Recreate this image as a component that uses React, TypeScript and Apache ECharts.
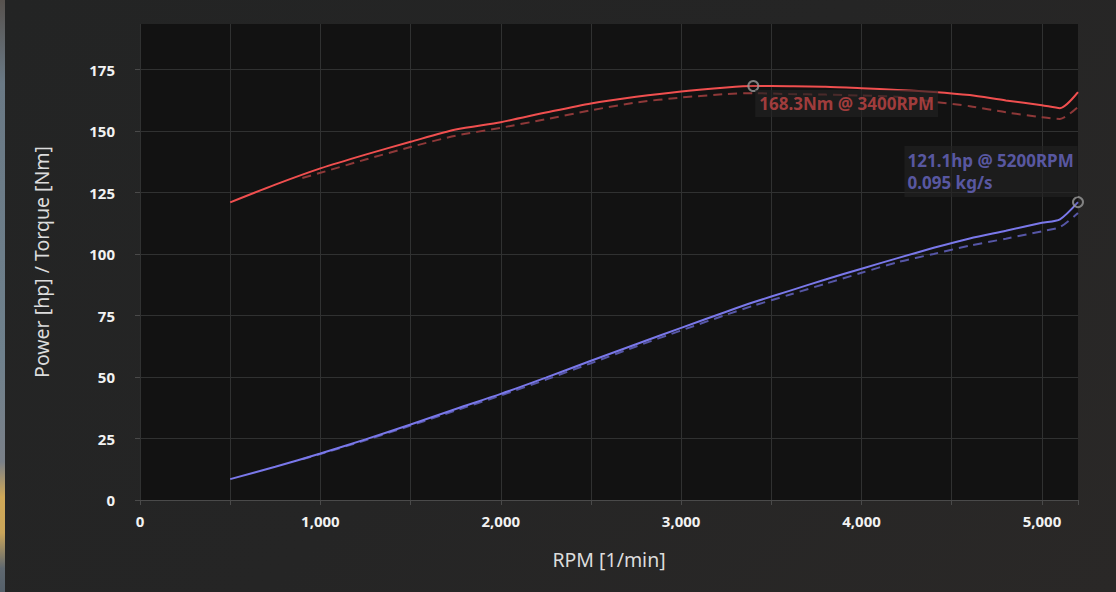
import React, { useEffect, useRef } from "react";
import * as echarts from "echarts";

// ---- data ----
const rpmSolid = [500, 750, 1000, 1250, 1500, 1750, 2000, 2250, 2500, 2750, 3000, 3250, 3400, 3600, 3800, 4000, 4200, 4400, 4600, 4800, 5000, 5100, 5200];
const torqueSolid = [121.0, 128.2, 134.8, 140.4, 145.6, 150.6, 153.6, 157.5, 161.2, 163.9, 166.1, 167.7, 168.3, 168.2, 168.0, 167.4, 166.7, 165.9, 164.6, 162.4, 160.5, 159.3, 165.8];
const powerSolid = [8.5, 13.5, 18.93, 24.65, 30.67, 37.01, 43.14, 49.77, 56.59, 63.3, 69.98, 76.54, 80.36, 85.03, 89.65, 94.03, 98.32, 102.51, 106.33, 109.47, 112.69, 114.09, 121.07];

const rpmDashed = [900, 1000, 1250, 1500, 1750, 2000, 2250, 2500, 2750, 3000, 3250, 3400, 3600, 3800, 4000, 4200, 4400, 4600, 4800, 5000, 5100, 5200];
const torqueDashed = [130.9, 133.0, 138.4, 143.5, 148.1, 151.3, 154.8, 158.4, 161.6, 163.6, 165.0, 165.4, 165.0, 164.8, 164.4, 163.9, 161.9, 160.1, 157.6, 155.6, 154.9, 159.8];
const powerDashed = [16.54, 18.68, 24.29, 30.23, 36.4, 42.49, 48.91, 55.61, 62.41, 68.92, 75.31, 78.97, 83.42, 87.94, 92.35, 96.67, 100.04, 103.42, 106.23, 109.25, 110.94, 116.69];

const torquePeak = [3400, 168.3];
const powerPeak = [5200, 121.1];
const massFlow = 0.095;

const yMin = 0;
const yMax = 193.5;
const yStep = 25;
const xMin = 0;
const xMax = 5200;
const xStep = 500;
const xLabelStep = 1000;

const zip = (xs: number[], ys: number[]) => xs.map((x, i) => [x, ys[i]]);

export default function App() {
  const ref = useRef<HTMLDivElement>(null);

  useEffect(() => {
    if (!ref.current) return;
    const chart = echarts.init(ref.current, undefined, { renderer: "svg" });
    const font = "'Noto Sans', 'Open Sans', sans-serif";
    const gridColor = "#303131";
    const labelBg = "rgba(34,34,34,0.8)";

    const lineSeries = (name: string, data: number[][], color: string, dashed: boolean, z: number) => ({
      name,
      type: "line",
      data,
      showSymbol: false,
      symbol: "none",
      smooth: 0.25,
      z,
      lineStyle: { color, width: 2, type: dashed ? [9, 6] : "solid" },
      emphasis: { disabled: true },
      silent: true,
    });

    chart.setOption({
      animation: false,
      backgroundColor: "transparent",
      textStyle: { fontFamily: font },
      grid: {
        left: 140,
        top: 24,
        right: 38,
        bottom: 92,
        show: true,
        backgroundColor: "#121212",
        borderWidth: 0,
      },
      xAxis: {
        type: "value",
        min: xMin,
        max: xMax,
        interval: xStep,
        name: "RPM [1/min]",
        nameLocation: "middle",
        nameGap: 49,
        nameTextStyle: { color: "#dcdcdc", fontSize: 19.5, fontFamily: font },
        axisLine: { show: true, lineStyle: { color: "#4a4a4a", width: 1 } },
        axisTick: { show: true, length: 5, lineStyle: { color: "#4a4a4a" } },
        axisLabel: {
          color: "#f2f2f2",
          fontSize: 15,
          fontWeight: "bold",
          fontFamily: font,
          margin: 13,
          formatter: (v: number) => (v % xLabelStep === 0 ? v.toLocaleString("en-US") : ""),
        },
        splitLine: { show: true, showMaxLine: false, lineStyle: { color: gridColor, width: 1 } },
      },
      yAxis: {
        type: "value",
        min: yMin,
        max: yMax,
        interval: yStep,
        name: "Power [hp] / Torque [Nm]",
        nameLocation: "middle",
        nameGap: 89,
        nameTextStyle: { color: "#dcdcdc", fontSize: 19.5, fontFamily: font },
        axisLine: { show: false },
        axisTick: { show: true, length: 5, lineStyle: { color: "#4a4a4a" } },
        axisLabel: {
          color: "#f2f2f2",
          fontSize: 15,
          fontWeight: "bold",
          fontFamily: font,
          margin: 25,
          showMaxLabel: false,
        },
        splitLine: { show: true, showMaxLine: false, lineStyle: { color: gridColor, width: 1 } },
      },
      series: [
        lineSeries("Torque (corrected)", zip(rpmDashed, torqueDashed), "#8e3838", true, 2),
        lineSeries("Power (corrected)", zip(rpmDashed, powerDashed), "#5656a6", true, 2),
        lineSeries("Torque", zip(rpmSolid, torqueSolid), "#f04f4f", false, 3),
        lineSeries("Power", zip(rpmSolid, powerSolid), "#7a78ea", false, 3),
        {
          type: "scatter",
          clip: false,
          z: 5,
          symbol: "circle",
          symbolSize: 10,
          silent: true,
          itemStyle: { color: "rgba(18,18,18,0.2)", borderColor: "#9a9a9a", borderWidth: 2 },
          data: [
            {
              value: torquePeak,
              label: {
                show: true,
                position: [8, 10],
                align: "left",
                verticalAlign: "top",
                formatter: `${torquePeak[1].toFixed(1)}Nm @ ${torquePeak[0]}RPM`,
                color: "#c44646",
                fontSize: 17,
                fontWeight: "bold",
                fontFamily: font,
                lineHeight: 21,
                padding: [3, 4, 3, 4],
                backgroundColor: labelBg,
              },
            },
            {
              value: powerPeak,
              label: {
                show: true,
                position: [-167.5, -50],
                align: "left",
                verticalAlign: "top",
                formatter: `${powerPeak[1].toFixed(1)}hp @ ${powerPeak[0]}RPM\n${massFlow.toFixed(3)} kg/s`,
                color: "#6a68c6",
                fontSize: 17,
                fontWeight: "bold",
                fontFamily: font,
                lineHeight: 22.5,
                padding: [3, 4, 3, 3],
                backgroundColor: labelBg,
              },
            },
          ],
        },
      ],
    });
    return () => chart.dispose();
  }, []);

  return (
    <div
      style={{
        position: "fixed",
        left: 0,
        top: 0,
        width: 1116,
        height: 592,
        background: "linear-gradient(135deg, #232424 0%, #252525 50%, #2a2827 100%)",
        overflow: "hidden",
      }}
    >
      <div
        style={{
          position: "absolute",
          left: 0,
          top: 0,
          width: 5,
          height: 592,
          background:
            "linear-gradient(to bottom, #57524e 0%, #6a7985 14%, #6f818d 60%, #7a8088 78%, #cfa857 84%, #caa55a 90%, #5f6870 96%, #55606a 100%)",
        }}
      />
      <div ref={ref} style={{ position: "absolute", left: 0, top: 0, width: 1116, height: 592 }} />
    </div>
  );
}
